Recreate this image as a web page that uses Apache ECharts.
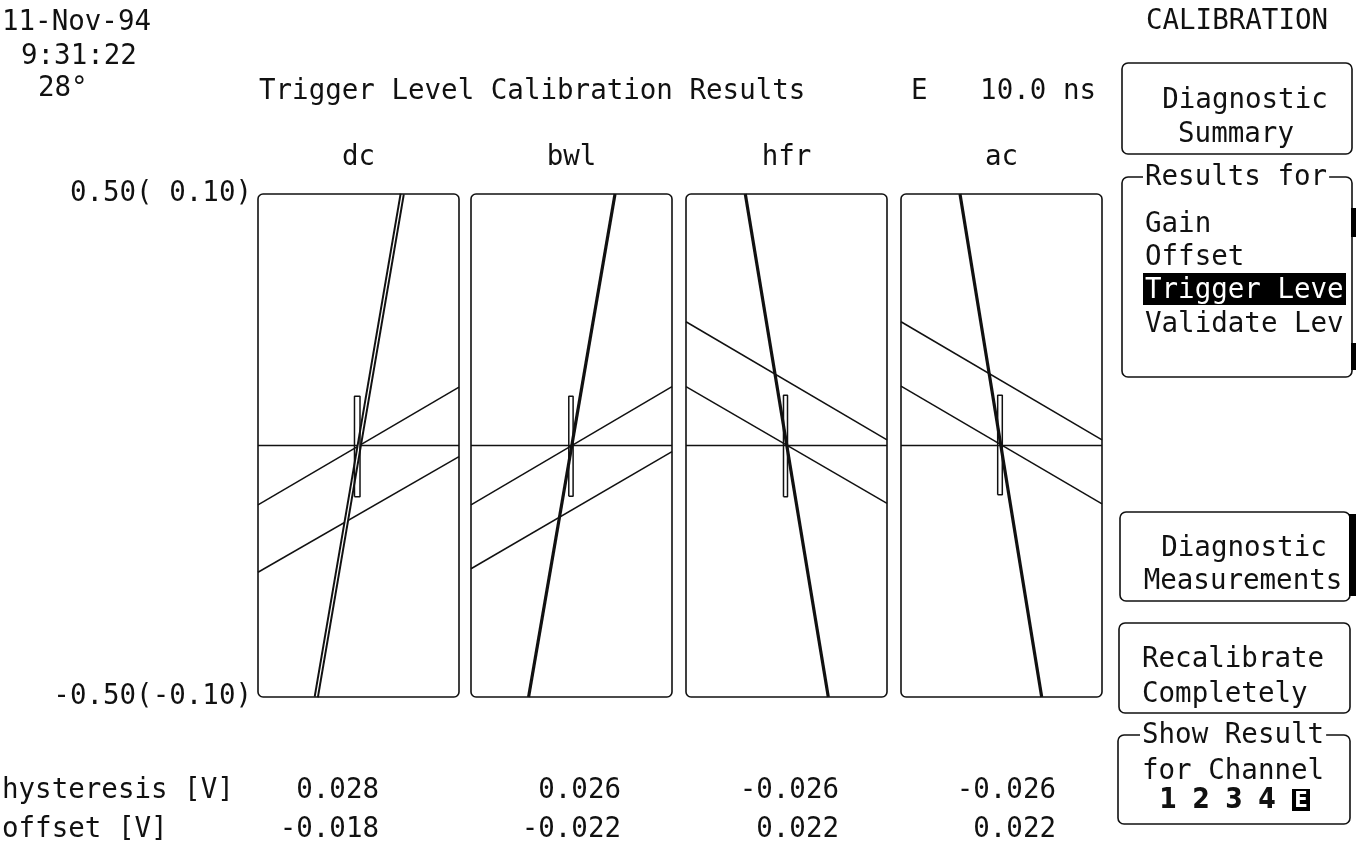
<!DOCTYPE html>
<html>
<head>
<meta charset="utf-8">
<script src="https://cdn.jsdelivr.net/npm/echarts@6/dist/echarts.min.js"></script>
<style>
html,body{margin:0;padding:0;background:#fff;}
#main{width:1356px;height:841px;}
</style>
</head>
<body>
<div id="main"></div>
<script>
// ---- data ----
const panels = ['dc', 'bwl', 'hfr', 'ac'];
// steep (trigger) line endpoints: [x0, y0, x1, y1]
const steepLines = [
  [-0.420, -0.5, 0.435, 0.5],
  [-0.427, -0.5, 0.433, 0.5],
  [-0.410, 0.5, 0.416, -0.5],
  [-0.413, 0.5, 0.400, -0.5]
];
// shallow lines: y at x=-1 and x=1
const upperLines = [[-0.118, 0.116], [-0.118, 0.117], [0.246, 0.011], [0.246, 0.011]];
const lowerLines = [[-0.252, -0.022], [-0.245, -0.012], [0.117, -0.115], [0.118, -0.116]];
const levelLines = [0, 0, 0, 0];
// hysteresis window rectangles
const rectX = [[-0.040, 0.015], [-0.027, 0.016], [-0.030, 0.010], [-0.038, 0.008]];
const rectY = [[-0.102, 0.098], [-0.101, 0.098], [-0.102, 0.100], [-0.098, 0.100]];
const hysteresis = [0.028, 0.026, -0.026, -0.026];
const offsetV = [-0.018, -0.022, 0.022, 0.022];
const yTickValues = [-0.5, 0.5];
const yTickLabels = ['-0.50(-0.10)', '0.50( 0.10)'];
const menuItems = ['Gain', 'Offset', 'Trigger Leve', 'Validate Lev'];
const channels = ['1', '2', '3', '4', 'E'];

// ---- layout ----
const FONT = '"DejaVu Sans Mono", "Liberation Mono", monospace';
const FS = 27.5;
const INK = '#111';
const DY = 2; // small downward nudge of text baseline
const gridLeft = [258, 471, 686, 901];
const gridTop = 194, gridW = 201, gridH = 503;
const valueRight = [379, 621, 839, 1056];

const chart = echarts.init(document.getElementById('main'), null, {renderer: 'canvas'});

const grids = [], xAxes = [], yAxes = [], series = [];
panels.forEach((p, i) => {
  grids.push({left: gridLeft[i], top: gridTop, width: gridW, height: gridH, containLabel: false});
  xAxes.push({type: 'value', gridIndex: i, min: -1, max: 1, show: false});
  yAxes.push({
    type: 'value', gridIndex: i, min: -0.5, max: 0.5,
    axisLine: {show: false}, axisTick: {show: false}, splitLine: {show: false},
    axisLabel: i === 0 ? {
      show: true, customValues: yTickValues, margin: 6,
      fontFamily: FONT, fontSize: FS, color: INK, padding: [0, 0, 8, 0],
      formatter: v => yTickLabels[yTickValues.indexOf(v)] || ''
    } : {show: false}
  });
  const base = {type: 'line', xAxisIndex: i, yAxisIndex: i, symbol: 'none', silent: true, animation: false, clip: true};
  series.push(Object.assign({}, base, {data: [[-1, levelLines[i]], [1, levelLines[i]]], lineStyle: {color: INK, width: 1.5}}));
  series.push(Object.assign({}, base, {data: [[-1, upperLines[i][0]], [1, upperLines[i][1]]], lineStyle: {color: INK, width: 1.5}}));
  series.push(Object.assign({}, base, {data: [[-1, lowerLines[i][0]], [1, lowerLines[i][1]]], lineStyle: {color: INK, width: 1.5}}));
  const s = steepLines[i];
  if (i === 0) {
    series.push(Object.assign({}, base, {data: [[s[0], s[1]], [s[2], s[3]]], lineStyle: {color: INK, width: 5.2}}));
    series.push(Object.assign({}, base, {data: [[s[0], s[1]], [s[2], s[3]]], lineStyle: {color: '#fff', width: 1.3}}));
  } else {
    series.push(Object.assign({}, base, {data: [[s[0], s[1]], [s[2], s[3]]], lineStyle: {color: INK, width: 3.2}}));
  }
  const rx = rectX[i], ry = rectY[i];
  series.push(Object.assign({}, base, {
    data: [[rx[0], ry[0]], [rx[1], ry[0]], [rx[1], ry[1]], [rx[0], ry[1]], [rx[0], ry[0]]],
    lineStyle: {color: INK, width: 1.5}
  }));
});

function txt(x, y, text, o) {
  o = o || {};
  return {
    type: 'text', x: x, y: y + DY, z: 50, silent: true,
    style: Object.assign({
      text: text, fill: INK, font: (o.weight || 'normal') + ' ' + (o.size || FS) + 'px ' + (o.family || FONT),
      align: o.align || 'left', verticalAlign: 'middle'
    }, o.style || {})
  };
}
function box(x, y, w, h, o) {
  o = o || {};
  return {type: 'rect', z: 40, silent: true, shape: {x: x, y: y, width: w, height: h, r: o.r == null ? 6 : o.r},
    style: {fill: o.fill || 'none', stroke: o.stroke === undefined ? INK : o.stroke, lineWidth: o.lw || 1.6}};
}

const g = [];
// panel frames and titles
panels.forEach((p, i) => {
  g.push(box(gridLeft[i], gridTop, gridW, gridH, {r: 5}));
  g.push(txt(gridLeft[i] + gridW / 2, 156, p, {align: 'center'}));
  g.push(txt(valueRight[i], 789, hysteresis[i].toFixed(3), {align: 'right'}));
  g.push(txt(valueRight[i], 828, offsetV[i].toFixed(3), {align: 'right'}));
});
// header
g.push(txt(2, 21, '11-Nov-94'));
g.push(txt(21, 55, '9:31:22'));
g.push(txt(38, 87, '28°'));
g.push(txt(259, 90, 'Trigger Level Calibration Results'));
g.push(txt(911, 90, 'E'));
g.push(txt(1096, 90, '10.0 ns', {align: 'right'}));
g.push(txt(1237, 20, 'CALIBRATION', {align: 'center'}));
g.push(txt(2, 789, 'hysteresis [V]'));
g.push(txt(2, 828, 'offset [V]'));

// right menu
g.push(box(1122, 63, 230, 91));
g.push(txt(1245, 99, 'Diagnostic', {align: 'center'}));
g.push(txt(1236, 133, 'Summary', {align: 'center'}));

g.push(box(1122, 177, 230, 200));
g.push(txt(1143, 176, 'Results for', {style: {backgroundColor: '#fff', padding: [0, 2]}}));
const menuY = [223, 256, 289, 323];
menuItems.forEach((m, k) => {
  if (k === 2) {
    g.push({type: 'rect', z: 45, silent: true, shape: {x: 1143, y: 273, width: 203, height: 32}, style: {fill: '#000'}});
    g.push(txt(1145, menuY[k], m, {style: {fill: '#fff'}}));
  } else {
    g.push(txt(1145, menuY[k], m));
  }
});
g.push({type: 'rect', z: 45, silent: true, shape: {x: 1351, y: 208, width: 5, height: 29}, style: {fill: '#000'}});
g.push({type: 'rect', z: 45, silent: true, shape: {x: 1351, y: 343, width: 5, height: 27}, style: {fill: '#000'}});

g.push(box(1120, 512, 230, 89));
g.push({type: 'rect', z: 45, silent: true, shape: {x: 1349, y: 514, width: 7, height: 82}, style: {fill: '#000'}});
g.push(txt(1244, 547, 'Diagnostic', {align: 'center'}));
g.push(txt(1243, 580, 'Measurements', {align: 'center'}));

g.push(box(1119, 623, 231, 90));
g.push(txt(1142, 658, 'Recalibrate'));
g.push(txt(1142, 693, 'Completely'));

g.push(box(1118, 735, 232, 89));
g.push(txt(1140, 734, 'Show Result', {style: {backgroundColor: '#fff', padding: [0, 2]}}));
g.push(txt(1142, 770, 'for Channel'));
const chX = [1168, 1201, 1234, 1267, 1301];
channels.forEach((c, k) => {
  const o = {align: 'center', weight: 'bold', size: 28, family: '"Liberation Sans Narrow", "DejaVu Sans Condensed", sans-serif'};
  if (c === 'E') {
    g.push({type: 'rect', z: 45, silent: true, shape: {x: 1292, y: 789, width: 18, height: 22}, style: {fill: '#000'}});
    o.style = {fill: '#fff'};
    o.size = 22;
  }
  g.push(txt(chX[k], 799, c, o));
});

chart.setOption({
  backgroundColor: '#fff',
  animation: false,
  grid: grids,
  xAxis: xAxes,
  yAxis: yAxes,
  series: series,
  graphic: {elements: g}
});
</script>
</body>
</html>
